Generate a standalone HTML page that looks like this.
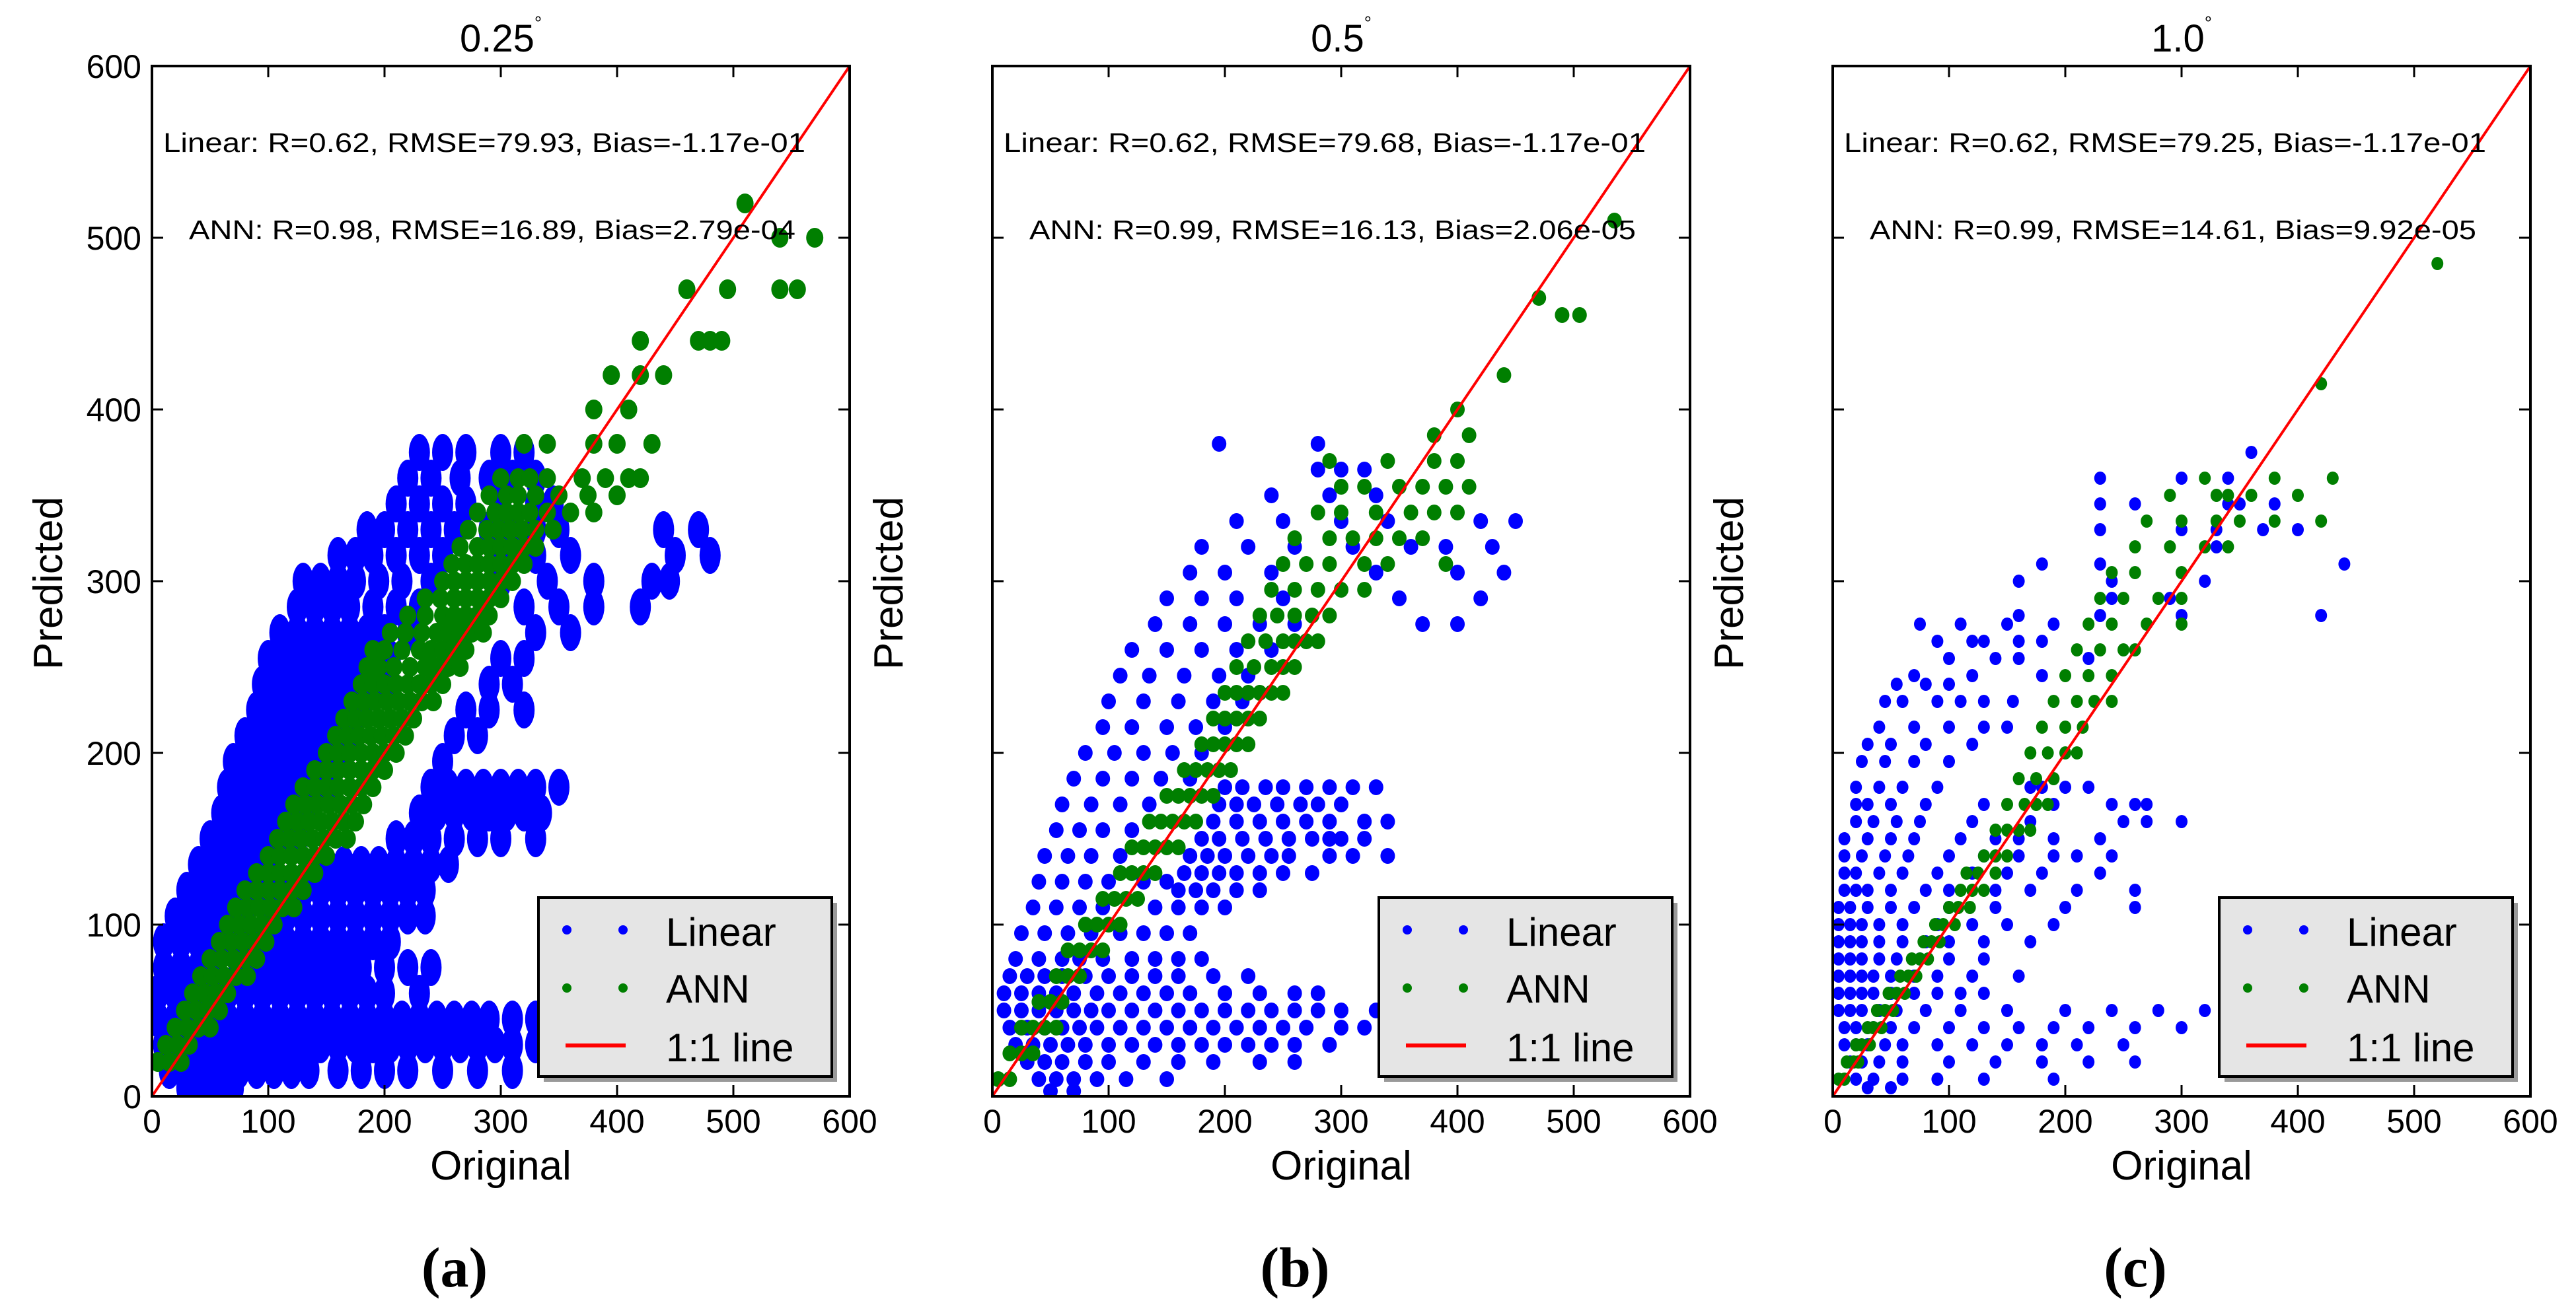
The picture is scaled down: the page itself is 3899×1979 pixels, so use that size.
<!DOCTYPE html>
<html><head><meta charset="utf-8"><style>
html,body{margin:0;padding:0;background:#fff;}
svg{display:block;font-family:"Liberation Sans","DejaVu Sans",sans-serif;}
</style></head><body>
<svg id="fig" width="3899" height="1979" viewBox="0 0 3899 1979" xmlns="http://www.w3.org/2000/svg"></svg>
<script>
// ---- data (rows: [y, [x values]]) ----
const ticks = [0,100,200,300,400,500,600];
const panelTitles = ["0.25", "0.5", "1.0"];
const panelLetters = ["(a)", "(b)", "(c)"];
const linearStats = ["Linear: R=0.62, RMSE=79.93, Bias=-1.17e-01","Linear: R=0.62, RMSE=79.68, Bias=-1.17e-01","Linear: R=0.62, RMSE=79.25, Bias=-1.17e-01"];
const annStats = ["ANN: R=0.98, RMSE=16.89, Bias=2.79e-04","ANN: R=0.99, RMSE=16.13, Bias=2.06e-05","ANN: R=0.99, RMSE=14.61, Bias=9.92e-05"];

const linA = [
[375,[230,250,270,300,320]],[360,[220,240,265,290,310,330]],[345,[210,230,250,270,300,330,345]],
[330,[185,200,220,240,260,290,310,330,350,440,470]],[315,[160,175,190,210,230,250,300,330,360,450,480]],
[300,[130,145,160,175,195,215,240,300,340,380,430,445]],[285,[125,140,155,170,190,210,230,320,350,380,420]],
[270,[110,125,140,155,170,185,200,220,330,360]],[255,[100,115,130,145,160,175,190,205,300,320]],
[240,[95,110,125,140,155,170,185,200,290,310]],[225,[90,105,120,135,150,165,180,270,290,320]],
[210,[80,95,110,125,140,155,170,260,280]],[195,[70,85,100,115,130,145,160,250]],
[180,[65,80,95,110,125,140,155,240,255,270,285,300,315,330,350]],[165,[60,75,90,105,120,135,230,245,260,275,290,305,320,335]],
[150,[50,65,80,95,110,125,210,225,240,260,280,300,330]],[135,[40,55,70,85,100,150,165,180,195,210,225,240,255]],
[120,[30,45,60,75,90,110,130,145,160,175,190,205,220,235]],[105,[20,35,50,65,80,100,115,130,145,160,175,190,205,220,235]],
[90,[10,25,40,55,70,85,100,115,130,145,160,175,190,205]],[75,[10,25,40,55,75,90,105,120,135,150,165,180,200,220,240]],
[60,[5,20,35,50,65,80,95,110,125,140,155,170,185,200,230]],
[45,[5,20,35,50,65,80,95,110,125,140,155,170,185,200,215,230,245,260,275,290,310,330,350]],
[30,[10,25,40,55,70,85,100,115,130,145,160,175,190,205,220,235,250,265,280,295,310,330,350]],
[15,[15,30,45,60,75,90,105,120,135,160,180,200,220,250,280,310]],[5,[30,45,60,70]]
];
const annA = [
[20,[5,15,25]],[30,[12,22,32]],[40,[20,30,40,50]],[50,[28,38,48,58]],[60,[35,45,55,65]],[70,[42,52,62,72,82]],
[80,[50,60,70,80,90]],[90,[58,68,78,88,98]],[100,[65,75,85,95,105]],[110,[72,82,92,102,112,122]],
[120,[80,90,100,110,120,130]],[130,[90,100,110,120,130,140]],[140,[100,110,120,130,140,150]],
[150,[108,118,128,138,148,158,168]],[160,[115,125,135,145,155,165,175]],[170,[122,132,142,152,162,172,182]],
[180,[130,140,150,160,170,180,190]],[190,[140,150,160,170,180,190,200]],[200,[150,160,170,180,190,200,210]],
[210,[158,168,178,188,198,208,218]],[220,[165,175,185,195,205,215,225]],[230,[172,182,192,202,212,222,232,242]],
[240,[180,190,200,210,220,230,240,250]],[250,[185,195,208,222,235,245,255,265]],[260,[190,200,215,230,240,250,260,270]],
[270,[205,218,232,245,255,265,275,285]],[280,[220,235,250,260,270,280,290]],[290,[235,248,260,270,280,290,300]],
[300,[250,260,270,280,290,300,310]],[310,[258,270,280,290,300,310,320]],[320,[265,280,290,300,310,320,330]],
[330,[272,288,298,308,318,330,345]],[340,[280,295,305,315,325,340,360,380]],[350,[290,305,315,330,350,375,400]],
[360,[300,315,325,340,370,390,410,420]],[380,[320,340,380,400,430]],[400,[380,410]],[420,[395,420,440]],
[440,[420,470,480,490]],[470,[460,495,540,555]],[500,[540,570]],[520,[510]]
];
const linB = [
[380,[195,280]],[365,[280,300,320]],[350,[240,290,330]],[335,[210,250,300,340,420,450]],
[320,[180,220,260,310,360,390,430]],[305,[170,200,240,330,400,440]],[290,[150,180,210,250,350,420]],
[275,[140,170,200,230,260,370,400]],[260,[120,150,180,210,240]],[245,[110,135,165,195,220]],
[230,[100,130,160,190,215]],[215,[95,120,150,175,200]],[200,[80,105,130,155,180]],[185,[70,95,120,145,170]],
[180,[200,215,235,250,270,290,310,330]],[170,[60,85,110,135,195,210,225,245,265,280,300]],
[160,[190,210,230,250,270,290,320,340]],[155,[55,75,95,120]],[150,[180,195,215,235,255,275,290,300,320]],
[140,[45,65,85,110,170,185,200,220,240,255,290,310,340]],[130,[165,180,195,210,230,250,275]],
[125,[40,60,80,100,130,150]],[120,[160,175,190,210,230]],[110,[35,55,75,95,140,160,180,200]],
[95,[25,45,65,85,110,130,150,170]],[80,[20,40,60,75,95,120,140,160,180]],
[70,[15,30,45,60,80,100,120,140,160,190,220]],[60,[10,25,40,55,70,90,110,130,150,170,200,230,260,280]],
[50,[10,25,40,55,70,85,100,120,140,160,180,200,220,240,260,280,300,330]],
[40,[15,30,45,60,75,90,110,130,150,170,190,210,230,250,270,300,320]],
[30,[20,35,50,65,80,100,120,140,160,180,200,220,240,260,290]],
[20,[30,45,60,80,100,130,160,190,230,260]],[10,[40,55,70,90,115,150]],[3,[50,70]]
];
const annB = [
[10,[5,15]],[25,[15,25,35]],[40,[25,35,45,55]],[55,[40,50,60]],[70,[55,65,75]],[85,[65,75,85,95]],
[100,[80,90,100,110]],[115,[95,105,115,125]],[130,[110,120,130,140]],[145,[120,130,140,150,160]],
[160,[135,145,155,165,175]],[175,[150,160,170,180,190]],[190,[165,175,185,195,205]],[205,[180,190,200,210,220]],
[220,[190,200,210,220,230]],[235,[200,210,220,230,240,250]],[250,[210,225,240,250,260]],
[265,[220,235,250,260,270,280]],[280,[230,245,260,275,290]],[295,[240,260,280,300,320]],
[310,[250,270,290,320,340,390]],[325,[260,290,310,330,350,370]],[340,[280,300,330,360,380,400]],
[355,[300,320,350,370,390,410]],[370,[290,340,380,400]],[385,[380,410]],[400,[400]],[420,[440]],
[455,[490,505]],[465,[470]],[510,[535]]
];
const linC = [
[375,[360]],[360,[230,300,340]],[345,[230,260,340,350,380]],[330,[230,300,330,370,400]],[320,[330]],
[310,[180,230,440]],[300,[160,240,320]],[290,[240,290]],[280,[160,230,300,420]],[275,[75,110,150,190]],
[265,[90,120,130,160,180]],[255,[100,140,160,220]],[245,[70,120,180]],[240,[55,80,100]],
[230,[45,60,90,110,130,155]],[215,[40,70,100,130,150]],[205,[30,50,80,120]],[195,[25,45,70,100]],
[180,[20,40,60,90,170,180,200,220]],[170,[20,30,50,80,130,190,240,260,270]],
[160,[20,35,55,75,120,170,250,270,300]],[150,[10,30,50,70,110,140,160,190,230]],
[140,[10,25,45,65,100,130,160,190,210,240]],[130,[10,20,40,60,90,120,150,180,230]],
[120,[10,20,30,50,80,100,140,170,210,260]],[110,[5,15,30,50,70,100,140,200,260]],
[100,[5,15,25,40,60,90,120,150,190]],[90,[5,15,25,40,60,80,100,130,170]],
[80,[5,15,25,40,55,75,100,130]],[70,[5,15,25,35,50,70,90,120,160]],[60,[5,15,25,35,50,70,90,110,130]],
[50,[5,15,25,40,55,80,110,150,200,240,280,320]],[40,[10,20,35,50,70,100,130,160,190,220,260,300]],
[30,[10,20,30,45,60,90,120,150,180,210,250]],[20,[15,25,40,60,100,140,180,220,260]],
[10,[20,35,60,90,130,190]],[5,[30,50]]
];
const annC = [
[10,[5,10]],[20,[12,18,22]],[30,[20,25,32]],[40,[30,35,42]],[50,[38,45,52]],[60,[48,55,62]],
[70,[58,65,72]],[80,[68,75,82]],[90,[78,85,92]],[100,[88,95,105]],[110,[100,108,118]],[120,[110,120,130]],
[130,[115,125,140]],[140,[130,140,150]],[155,[140,150,160,170]],[170,[150,165,175,185]],[185,[160,175,190]],
[200,[170,185,200,210]],[215,[180,200,215]],[230,[190,210,225,240]],[245,[200,220,240]],
[260,[210,230,250,260]],[275,[220,240,270,300]],[290,[230,250,280,300]],[305,[240,260,300]],
[320,[260,290,320,340]],[335,[270,300,330,350,380,420]],[350,[290,330,340,360,400]],[360,[320,380,430]],
[415,[420]],[485,[520]]
];
const linearSets = [linA, linB, linC];
const annSets = [annA, annB, annC];

// ---- layout ----
const NS = "http://www.w3.org/2000/svg";
const svg = document.getElementById('fig');
const lefts = [230, 1502, 2774];
const W = 1056, TOP = 100, BOT = 1660;
const linRx = [16, 11, 9], linRy = [28, 12, 10];
const annRx = [13, 11, 9], annRy = [15, 12, 10];
function mk(tag, attrs, parent){
  const e = document.createElementNS(NS, tag);
  for (const k in attrs) e.setAttribute(k, attrs[k]);
  (parent||svg).appendChild(e); return e;
}
for (let p = 0; p < 3; p++) {
  const L = lefts[p];
  const xs = v => L + v / 600 * W;
  const ys = v => BOT - v / 600 * (BOT - TOP);
  const g = mk('g', {});
  
  
  const clipId = 'clip' + p;
  const cp = mk('clipPath', {id: clipId}, g);
  mk('rect', {x: L, y: TOP, width: W, height: BOT - TOP}, cp);
  const plot = mk('g', {'clip-path': 'url(#' + clipId + ')'}, g);
  const lg = mk('g', {fill: '#0000ff'}, plot);
  
  
  for (const [yv, xl] of linearSets[p]) for (const xv of xl) {
    const c = mk('ellipse', {cx: xs(xv), cy: ys(yv), rx: linRx[p], ry: linRy[p]}, lg);
    
    
  }
  const ag = mk('g', {fill: '#007f00'}, plot);
  
  
  for (const [yv, xl] of annSets[p]) for (const xv of xl) {
    const c = mk('ellipse', {cx: xs(xv), cy: ys(yv), rx: annRx[p], ry: annRy[p]}, ag);
    
    
  }
  const ln = mk('line', {x1: xs(0), y1: ys(0), x2: xs(600), y2: ys(600), stroke: '#ff0000', 'stroke-width': 4}, plot);
  
  
  const fr = mk('rect', {x: L, y: TOP, width: W, height: BOT - TOP, fill: 'none', stroke: '#000', 'stroke-width': 4}, g);
  
  
  for (const t of ticks) {
    mk('line', {x1: xs(t), y1: BOT, x2: xs(t), y2: BOT - 17, stroke: '#000', 'stroke-width': 3}, g);
    mk('line', {x1: xs(t), y1: TOP, x2: xs(t), y2: TOP + 17, stroke: '#000', 'stroke-width': 3}, g);
    mk('line', {x1: L, y1: ys(t), x2: L + 17, y2: ys(t), stroke: '#000', 'stroke-width': 3}, g);
    mk('line', {x1: L + W, y1: ys(t), x2: L + W - 17, y2: ys(t), stroke: '#000', 'stroke-width': 3}, g);
    const xt = mk('text', {x: xs(t), y: 1715, 'font-size': 50, 'text-anchor': 'middle'}, g);
    xt.textContent = t;
    
    
    if (p === 0) {
      const yt = mk('text', {x: L - 16, y: ys(t) + 18, 'font-size': 50, 'text-anchor': 'end'}, g);
      yt.textContent = t;
      
      
    }
  }
  const tt = mk('text', {x: L + W/2, y: 78, 'font-size': 58, 'text-anchor': 'middle'}, g);
  tt.textContent = panelTitles[p];
  const sup = mk('tspan', {'font-size': 28, dy: -34}, tt);
  sup.textContent = '°';
  
  
  const s1 = mk('text', {x: L + 17, y: 230, 'font-size': 41, textLength: 972, lengthAdjust: 'spacingAndGlyphs'}, g);
  s1.textContent = linearStats[p];
  
  
  const s2 = mk('text', {x: L + 56, y: 362, 'font-size': 41, textLength: 918, lengthAdjust: 'spacingAndGlyphs'}, g);
  s2.textContent = annStats[p];
  
  
  const xl = mk('text', {x: L + W/2, y: 1786, 'font-size': 62, 'text-anchor': 'middle'}, g);
  xl.textContent = 'Original';
  
  
  const yl = mk('text', {x: 0, y: 0, 'font-size': 62, 'text-anchor': 'middle', transform: 'translate(' + (L - 136) + ',883) rotate(-90)'}, g);
  yl.textContent = 'Predicted';
  
  
  const lt = mk('text', {x: L + W/2 - 70, y: 1948, 'font-size': 86, 'font-weight': 'bold', 'text-anchor': 'middle', 'font-family': '"Liberation Serif", serif'}, g);
  lt.textContent = panelLetters[p];
  
  
  const lgd = mk('g', {}, g);
  
  
  mk('rect', {x: L + 593, y: 1367, width: 444, height: 271, fill: '#999'}, lgd);
  mk('rect', {x: L + 585, y: 1359, width: 444, height: 271, fill: '#e5e5e5', stroke: '#000', 'stroke-width': 4}, lgd);
  for (const mx of [628, 713]) {
    mk('circle', {cx: L + mx, cy: 1408, r: 7, fill: '#0000ff'}, lgd);
    mk('circle', {cx: L + mx, cy: 1496, r: 7, fill: '#007f00'}, lgd);
  }
  mk('line', {x1: L + 626, y1: 1583, x2: L + 717, y2: 1583, stroke: '#ff0000', 'stroke-width': 6}, lgd);
  const labels = [['Linear', 1432], ['ANN', 1518], ['1:1 line', 1607]];
  for (const [txt, by] of labels) {
    const t = mk('text', {x: L + 778, y: by, 'font-size': 60}, lgd);
    t.textContent = txt;
    
    
  }
}
</script>
</body></html>
